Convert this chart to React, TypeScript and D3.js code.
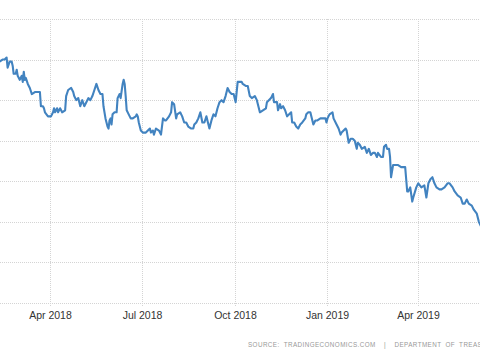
import React from "react";
import * as d3 from "d3";

const dates: string[] = [
  "2018-02-10","2018-02-13","2018-02-15","2018-02-17","2018-02-18","2018-02-20","2018-02-22","2018-02-23","2018-02-24","2018-02-26",
  "2018-02-27","2018-02-28","2018-03-02","2018-03-04","2018-03-05","2018-03-06","2018-03-07","2018-03-08","2018-03-10","2018-03-12",
  "2018-03-14","2018-03-17","2018-03-20","2018-03-22","2018-03-23","2018-03-25","2018-03-26","2018-03-27","2018-03-30","2018-04-02",
  "2018-04-04","2018-04-05","2018-04-06","2018-04-08","2018-04-09","2018-04-11","2018-04-13","2018-04-16","2018-04-17","2018-04-19",
  "2018-04-22","2018-04-24","2018-04-25","2018-04-27","2018-04-29","2018-05-01","2018-05-03","2018-05-05","2018-05-07","2018-05-09",
  "2018-05-11","2018-05-13","2018-05-15","2018-05-17","2018-05-19","2018-05-21","2018-05-23","2018-05-24","2018-05-26","2018-05-28",
  "2018-05-29","2018-05-30","2018-05-31","2018-06-01","2018-06-02","2018-06-04","2018-06-06","2018-06-07","2018-06-09","2018-06-10",
  "2018-06-12","2018-06-13","2018-06-14","2018-06-15","2018-06-16","2018-06-18","2018-06-20","2018-06-22","2018-06-25","2018-06-26",
  "2018-06-27","2018-06-28","2018-06-30","2018-07-02","2018-07-05","2018-07-07","2018-07-09","2018-07-10","2018-07-12","2018-07-13",
  "2018-07-15","2018-07-18","2018-07-20","2018-07-22","2018-07-24","2018-07-25","2018-07-28","2018-07-30","2018-07-31","2018-08-02",
  "2018-08-04","2018-08-05","2018-08-08","2018-08-10","2018-08-12","2018-08-14","2018-08-16","2018-08-19","2018-08-21","2018-08-22",
  "2018-08-24","2018-08-26","2018-08-28","2018-08-30","2018-09-01","2018-09-03","2018-09-05","2018-09-06","2018-09-08","2018-09-10",
  "2018-09-12","2018-09-14","2018-09-16","2018-09-18","2018-09-20","2018-09-22","2018-09-24","2018-09-26","2018-09-28","2018-09-30",
  "2018-10-02","2018-10-04","2018-10-06","2018-10-08","2018-10-09","2018-10-12","2018-10-14","2018-10-16","2018-10-18","2018-10-21",
  "2018-10-23","2018-10-24","2018-10-26","2018-10-29","2018-11-01","2018-11-02","2018-11-06","2018-11-08","2018-11-09","2018-11-12",
  "2018-11-13","2018-11-15","2018-11-16","2018-11-18","2018-11-20","2018-11-22","2018-11-24","2018-11-26","2018-11-27","2018-11-29",
  "2018-12-01","2018-12-03","2018-12-05","2018-12-07","2018-12-10","2018-12-11","2018-12-13","2018-12-15","2018-12-18","2018-12-20",
  "2018-12-22","2018-12-25","2018-12-27","2018-12-30","2018-12-31","2019-01-01","2019-01-03","2019-01-06","2019-01-07","2019-01-10",
  "2019-01-12","2019-01-14","2019-01-15","2019-01-17","2019-01-19","2019-01-20","2019-01-22","2019-01-24","2019-01-26","2019-01-28",
  "2019-01-30","2019-01-31","2019-02-02","2019-02-04","2019-02-07","2019-02-09","2019-02-11","2019-02-13","2019-02-15","2019-02-17",
  "2019-02-19","2019-02-20","2019-02-23","2019-02-25","2019-02-26","2019-02-28","2019-03-01","2019-03-03","2019-03-04","2019-03-05",
  "2019-03-07","2019-03-10","2019-03-12","2019-03-15","2019-03-17","2019-03-19","2019-03-20","2019-03-21","2019-03-22","2019-03-24",
  "2019-03-26","2019-03-27","2019-03-30","2019-04-01","2019-04-04","2019-04-07","2019-04-09","2019-04-11","2019-04-13","2019-04-15",
  "2019-04-17","2019-04-19","2019-04-22","2019-04-24","2019-04-27","2019-04-30","2019-05-02","2019-05-05","2019-05-07","2019-05-10",
  "2019-05-13","2019-05-15","2019-05-17","2019-05-19","2019-05-21","2019-05-24","2019-05-26","2019-05-29","2019-05-31","2019-06-02",
];

const values: number[] = [
  3.19,3.20,3.20,3.21,3.16,3.19,3.19,3.17,3.13,3.13,
  3.15,3.12,3.10,3.12,3.09,3.14,3.10,3.11,3.08,3.06,
  3.03,3.04,3.04,3.04,2.97,2.97,2.96,2.94,2.92,2.92,
  2.94,2.96,2.94,2.96,2.94,2.96,2.94,2.95,3.02,3.05,
  3.06,3.04,3.02,3.00,3.01,2.97,3.00,2.97,2.99,3.01,
  3.00,3.02,3.05,3.08,3.05,3.03,3.03,2.97,2.91,2.87,
  2.86,2.90,2.91,2.88,2.93,2.94,2.94,3.01,3.03,3.01,
  3.08,3.10,3.08,3.02,2.95,2.93,2.91,2.91,2.92,2.93,
  2.92,2.89,2.85,2.84,2.84,2.85,2.86,2.84,2.85,2.83,
  2.86,2.85,2.83,2.91,2.90,2.90,2.92,2.94,2.99,2.98,
  2.91,2.93,2.94,2.92,2.89,2.89,2.87,2.86,2.86,2.88,
  2.89,2.91,2.94,2.89,2.89,2.92,2.88,2.86,2.90,2.93,
  2.92,2.96,2.99,3.00,2.99,3.02,3.06,3.04,3.03,3.03,
  2.99,3.09,3.09,3.09,3.08,3.07,3.07,3.02,3.01,3.02,
  3.00,2.98,2.94,2.95,2.96,2.99,3.01,3.03,2.99,2.99,
  2.95,2.98,2.96,2.97,2.95,2.92,2.93,2.94,2.89,2.89,
  2.87,2.86,2.88,2.89,2.91,2.93,2.94,2.94,2.88,2.90,
  2.90,2.91,2.91,2.91,2.89,2.91,2.93,2.94,2.91,2.88,
  2.86,2.83,2.84,2.85,2.86,2.85,2.79,2.81,2.81,2.80,
  2.76,2.79,2.78,2.76,2.77,2.74,2.76,2.73,2.74,2.74,
  2.72,2.74,2.72,2.72,2.77,2.78,2.76,2.76,2.72,2.62,
  2.68,2.68,2.68,2.67,2.67,2.67,2.61,2.55,2.55,2.57,
  2.50,2.52,2.57,2.59,2.57,2.58,2.52,2.59,2.61,2.62,
  2.59,2.57,2.56,2.56,2.57,2.59,2.59,2.57,2.55,2.53,
  2.52,2.49,2.49,2.51,2.49,2.48,2.46,2.44,2.40,2.38,
];

const xTickDates: string[] = ["2018-04-01", "2018-07-01", "2018-10-01", "2019-01-01", "2019-04-01"];
const xTickLabels: string[] = ["Apr 2018", "Jul 2018", "Oct 2018", "Jan 2019", "Apr 2019"];
const yGridValues: number[] = [2.0, 2.2, 2.4, 2.6, 2.8, 3.0, 3.2, 3.4];
const sourceText = "SOURCE: TRADINGECONOMICS.COM  |  DEPARTMENT OF TREASURY";

const W = 480;
const H = 360;

export default function App() {
  const parse = d3.timeParse("%Y-%m-%d");
  const data = dates.map((d, i) => ({ date: parse(d) as Date, value: values[i] }));

  const x = d3
    .scaleTime()
    .domain([parse("2018-04-01") as Date, parse("2019-04-01") as Date])
    .range([50, 418.3]);
  const y = d3.scaleLinear().domain([2.0, 3.4]).range([303, 19]);

  const line = d3
    .line<{ date: Date; value: number }>()
    .x((d) => x(d.date))
    .y((d) => y(d.value));

  const gridColor = "#d4d4d4";

  return (
    <svg
      width={W}
      height={H}
      style={{ position: "absolute", left: 0, top: 0, background: "#fff" }}
      fontFamily="'Liberation Sans', Arial, sans-serif"
    >
      <rect x={0} y={0} width={W} height={H} fill="#ffffff" />
      {yGridValues.map((v) => (
        <line
          key={"h" + v}
          x1={0}
          x2={W}
          y1={Math.round(y(v)) + 0.5}
          y2={Math.round(y(v)) + 0.5}
          stroke={gridColor}
          strokeWidth={1}
          strokeDasharray="1,1"
        />
      ))}
      {xTickDates.map((d, i) => {
        const xx = Math.round(x(parse(d) as Date)) + 0.5;
        return (
          <g key={"v" + d}>
            <line
              x1={xx}
              x2={xx}
              y1={y(3.4)}
              y2={y(2.0) + 4}
              stroke={gridColor}
              strokeWidth={1}
              strokeDasharray="1,1"
            />
            <text
              x={xx}
              y={319}
              textAnchor="middle"
              fontSize={10.5}
              fill="#333"
            >
              {xTickLabels[i]}
            </text>
          </g>
        );
      })}
      <path
        d={line(data) || ""}
        fill="none"
        stroke="#4283c0"
        strokeWidth={2.1}
        strokeLinejoin="round"
        strokeLinecap="round"
      />
      <text
        x={248}
        y={346.5}
        fontSize={6.3}
        letterSpacing={0.42}
        wordSpacing={2}
        fill="#999"
        style={{ whiteSpace: "pre" }}
      >
        {sourceText}
      </text>
    </svg>
  );
}
